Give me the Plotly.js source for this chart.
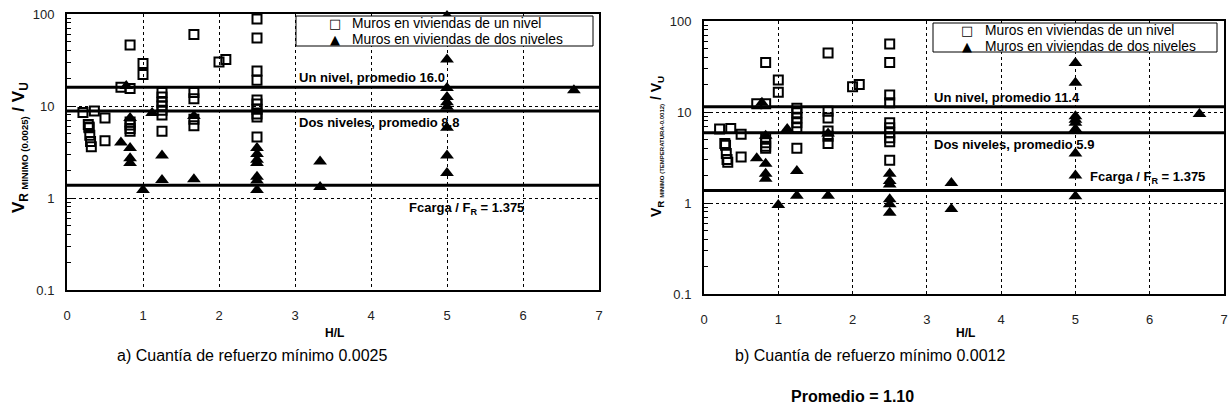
<!DOCTYPE html>
<html>
<head>
<meta charset="utf-8">
<script src="https://cdn.plot.ly/plotly-3.0.1.min.js"></script>
<style>html,body{margin:0;padding:0;background:#fff;}#chart{width:1232px;height:419px;}</style>
</head>
<body>
<div id="chart"></div>
<script>
// ---------- DATA ----------
const legendNames = ["Muros en viviendas de un nivel", "Muros en viviendas de dos niveles"];
const legendGlyphs = ["\u25A1", "\u25B2"];

// a) refuerzo mínimo 0.0025
const aUnNivelX = [0.21, 0.36, 0.28, 0.29, 0.29, 0.30, 0.31, 0.32, 0.5, 0.5, 0.71, 0.83, 0.83, 0.83, 0.83, 0.83, 0.83, 1.0, 1.0,
  1.25, 1.25, 1.25, 1.25, 1.25, 1.25, 1.25, 1.67, 1.67, 1.67, 1.67, 1.67, 2.0, 2.09,
  2.5, 2.5, 2.5, 2.5, 2.5, 2.5, 2.5, 2.5, 2.5, 2.5];
const aUnNivelY = [8.5, 8.8, 6.3, 5.8, 5.9, 4.8, 4.1, 3.6, 7.4, 4.2, 16, 46, 15.5, 6.7, 6.2, 5.7, 5.3, 29, 22,
  14, 12.5, 11, 10, 9, 8, 5.3, 60, 14, 12, 7.2, 6.1, 30, 32,
  88, 55, 24, 19, 11.6, 10.5, 9.2, 8.2, 7.6, 4.6];
const aDosNivelesX = [0.71, 0.78, 0.83, 0.83, 0.83, 0.83, 1.0, 1.12, 1.25, 1.25, 1.67, 1.67,
  2.5, 2.5, 2.5, 2.5, 2.5, 2.5, 2.5, 3.33, 3.33, 5, 5, 5, 5, 5, 5, 5, 5, 5, 6.67];
const aDosNivelesY = [4.0, 16.5, 7.4, 3.5, 2.7, 2.4, 1.22, 8.4, 2.9, 1.57, 7.8, 1.6,
  3.5, 3.0, 2.6, 2.4, 1.7, 1.55, 1.22, 2.5, 1.32, 95, 32, 15.7, 12.5, 11, 9.8, 5.8, 2.9, 1.87, 14.8];
const aPromUn = 16.0, aPromDos = 8.8;

// b) refuerzo mínimo 0.0012
const bUnNivelX = [0.21, 0.36, 0.28, 0.29, 0.30, 0.31, 0.32, 0.5, 0.5, 0.71, 0.83, 0.83, 0.83, 0.83, 0.83, 0.83, 1.0, 1.0,
  1.25, 1.25, 1.25, 1.25, 1.25, 1.25, 1.67, 1.67, 1.67, 1.67, 1.67, 1.67, 2.0, 2.09,
  2.5, 2.5, 2.5, 2.5, 2.5, 2.5, 2.5, 2.5, 2.5, 2.5];
const bUnNivelY = [6.5, 6.6, 4.5, 4.3, 3.5, 3.0, 2.8, 5.7, 3.2, 12.3, 35, 12.3, 5.2, 4.6, 4.2, 4.0, 22.5, 16.5,
  11, 9.8, 8.6, 7.6, 6.7, 4.0, 44.6, 10.2, 8.6, 6.2, 5.4, 4.5, 19, 20,
  56, 35, 15.4, 12.6, 7.6, 6.7, 5.9, 5.2, 4.7, 2.95];
const bDosNivelesX = [0.71, 0.78, 0.83, 0.83, 0.83, 0.83, 1.0, 1.12, 1.25, 1.25, 1.67, 1.67,
  2.5, 2.5, 2.5, 2.5, 2.5, 2.5, 3.33, 3.33, 5, 5, 5, 5, 5, 5, 5, 5, 5, 6.67];
const bDosNivelesY = [3.1, 12.6, 5.5, 2.7, 2.1, 1.85, 0.95, 6.5, 2.25, 1.2, 1.2, 5.8,
  2.1, 1.75, 1.6, 1.1, 0.97, 0.78, 1.66, 0.86, 34.5, 21, 9, 8.2, 7.6, 6.5, 3.5, 2.0, 1.19, 9.5];
const bPromUn = 11.4, bPromDos = 5.9;

const fcargaFR = 1.375;
const lineSpanX = [0, 7];
const yTickVals = [0.1, 1, 10, 100];
const yTickText = ["0.1", "1", "10", "100"];
const xTickVals = [0, 1, 2, 3, 4, 5, 6, 7];

// ---------- STYLE ----------
const FONT = 'Arial, "Liberation Sans", sans-serif';
const GLYPH_FONT = '"DejaVu Sans", sans-serif';
const sqMarker = {symbol: 'square-open', size: 9, color: '#000', line: {color: '#000', width: 2}};
const triMarker = {symbol: 'triangle-up', size: 12, color: '#000', line: {width: 0}};
const refLine = {color: '#000', width: 3};

function hline(val, xa, ya) {
  return {x: lineSpanX, y: [val, val], xaxis: xa, yaxis: ya, mode: 'lines', line: refLine,
    showlegend: false, hoverinfo: 'skip'};
}

const traces = [
  hline(aPromUn, 'x', 'y'), hline(aPromDos, 'x', 'y'), hline(fcargaFR, 'x', 'y'),
  hline(bPromUn, 'x2', 'y2'), hline(bPromDos, 'x2', 'y2'), hline(fcargaFR, 'x2', 'y2'),
  {x: aUnNivelX, y: aUnNivelY, xaxis: 'x', yaxis: 'y', mode: 'markers', name: legendNames[0],
    marker: sqMarker, showlegend: false, cliponaxis: false},
  {x: aDosNivelesX, y: aDosNivelesY, xaxis: 'x', yaxis: 'y', mode: 'markers', name: legendNames[1],
    marker: triMarker, showlegend: false, cliponaxis: false},
  {x: bUnNivelX, y: bUnNivelY, xaxis: 'x2', yaxis: 'y2', mode: 'markers', name: legendNames[0],
    marker: sqMarker, showlegend: false, cliponaxis: false},
  {x: bDosNivelesX, y: bDosNivelesY, xaxis: 'x2', yaxis: 'y2', mode: 'markers', name: legendNames[1],
    marker: triMarker, showlegend: false, cliponaxis: false}
];

const W = 1232, H = 419;
const px = v => v / W;          // pixel -> paper x
const py = v => 1 - v / H;      // pixel -> paper y

function xAxis(l, r, anchor) {
  return {domain: [px(l), px(r)], anchor: anchor, range: [0, 7], tickvals: xTickVals,
    showgrid: true, gridcolor: '#000', griddash: 'dot', gridwidth: 1, zeroline: false,
    showline: true, linecolor: '#000', linewidth: 2, mirror: true,
    ticks: '', ticklabelstandoff: 12, tickfont: {size: 13, color: '#222'}};
}
function yAxis(top, bottom, anchor) {
  return {domain: [py(bottom), py(top)], anchor: anchor, type: 'log', range: [-1, 2],
    tickvals: yTickVals, ticktext: yTickText,
    showgrid: true, gridcolor: '#000', griddash: 'dot', gridwidth: 1, zeroline: false,
    showline: true, linecolor: '#000', linewidth: 2, mirror: true,
    ticks: 'inside', ticklen: 6, tickcolor: '#000', ticklabelstandoff: 8,
    minor: {ticks: 'inside', ticklen: 4, tickcolor: '#000', dtick: 'D1', showgrid: false},
    tickfont: {size: 13, color: '#222'}};
}

function txt(text, x, y, opts) {
  return Object.assign({text: text, x: x, y: y, showarrow: false, font: {family: FONT, size: 13, color: '#000'}}, opts);
}
function ptxt(text, x, y, size, opts) {
  return Object.assign({text: text, x: px(x), y: py(y), xref: 'paper', yref: 'paper', showarrow: false,
    xanchor: 'center', yanchor: 'middle', font: {family: FONT, size: size, color: '#000'}}, opts || {});
}
const L10 = Math.log10;

// legend (box + entries) for each panel
function legendItems(boxL, boxT, boxR, boxB, glyphX, textX, rowY) {
  const shapes = [{type: 'rect', xref: 'paper', yref: 'paper', x0: px(boxL), x1: px(boxR), y0: py(boxB), y1: py(boxT),
    line: {color: '#000', width: 1}, fillcolor: '#fff', layer: 'above'}];
  const anns = [];
  legendNames.forEach((name, i) => {
    anns.push(ptxt(legendGlyphs[i], glyphX, rowY[i], 13, {font: {family: GLYPH_FONT, size: 13, color: '#000'}}));
    anns.push(ptxt(name, textX, rowY[i], 13.8, {xanchor: 'left'}));
  });
  return {shapes, anns};
}
const legA = legendItems(296, 16, 593, 46, 335, 350, [24, 39]);
const legB = legendItems(933, 23, 1217, 52, 967, 983, [31, 46]);

const annotations = [
  // left chart labels
  txt('<b>Un nivel, promedio 16.0</b>', 3.03, L10(aPromUn), {xref: 'x', yref: 'y', xanchor: 'left', yanchor: 'bottom', yshift: 0}),
  txt('<b>Dos niveles, promedio 8.8</b>', 3.03, L10(aPromDos), {xref: 'x', yref: 'y', xanchor: 'left', yanchor: 'top', yshift: -2}),
  txt('<b>Fcarga / F<sub>R</sub> = 1.375</b>', 4.47, L10(fcargaFR), {xref: 'x', yref: 'y', xanchor: 'left', yanchor: 'top', yshift: -13}),
  // right chart labels
  txt('<b>Un nivel, promedio 11.4</b>', 3.07, L10(bPromUn), {xref: 'x2', yref: 'y2', xanchor: 'left', yanchor: 'bottom', yshift: 0}),
  txt('<b>Dos niveles, promedio 5.9</b>', 3.07, L10(bPromDos), {xref: 'x2', yref: 'y2', xanchor: 'left', yanchor: 'top', yshift: -2}),
  txt('<b>Fcarga / F<sub>R</sub> = 1.375</b>', 5.17, L10(fcargaFR), {xref: 'x2', yref: 'y2', xanchor: 'left', yanchor: 'bottom', yshift: 2}),
  // axis titles
  ptxt('<b>H/L</b>', 335, 333, 12),
  ptxt('<b>H/L</b>', 965, 333, 12),
  ptxt('<b>V<sub>R <span style="font-size:9.5px">MINIMO (0.0025)</span></sub> / V<sub>U</sub></b>', 20, 148, 17, {textangle: -90}),
  ptxt('<b>V<sub>R <span style="font-size:6px">MINIMO (TEMPERATURA-0.0012)</span></sub> / V<sub>U</sub></b>', 657, 147, 14, {textangle: -90}),
  // captions
  ptxt('a) Cuantía de refuerzo mínimo 0.0025', 252, 355, 16),
  ptxt('b) Cuantía de refuerzo mínimo 0.0012', 870, 355, 16),
  ptxt('<b>Promedio = 1.10</b>', 852, 396, 16)
].concat(legA.anns, legB.anns);

const layout = {
  width: W, height: H,
  margin: {l: 0, r: 0, t: 0, b: 0},
  paper_bgcolor: '#fff', plot_bgcolor: '#fff',
  font: {family: FONT, color: '#000', size: 13},
  showlegend: false,
  xaxis: xAxis(67, 599, 'y'),
  yaxis: yAxis(14, 290, 'x'),
  xaxis2: xAxis(704, 1224, 'y2'),
  yaxis2: yAxis(21, 294, 'x2'),
  shapes: legA.shapes.concat(legB.shapes),
  annotations: annotations
};

Plotly.newPlot('chart', traces, layout, {staticPlot: true, displayModeBar: false});
</script>
</body>
</html>
